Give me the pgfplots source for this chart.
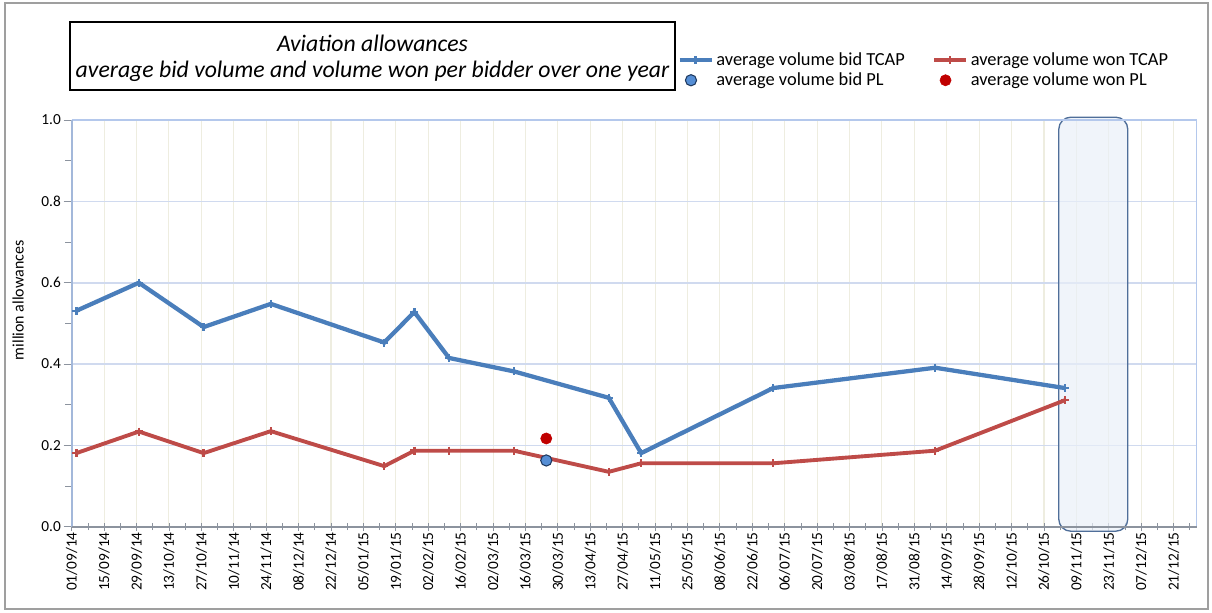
\documentclass[border=0pt]{standalone}
\usepackage{fontspec}
\setmainfont{Carlito}
\usepackage{pgfplots}
\pgfplotsset{compat=1.18}
\definecolor{bluel}{HTML}{4A7EBB}
\definecolor{redl}{HTML}{BE4B48}
\definecolor{plblue}{HTML}{558ED5}
\definecolor{plblueedge}{HTML}{1F3A60}
\definecolor{plred}{HTML}{C00000}
\definecolor{ygrid}{HTML}{D0DAEF}
\definecolor{xgrid}{HTML}{EEEDE0}
\definecolor{axleft}{HTML}{A3B8DA}
\definecolor{axtop}{HTML}{B4C8EC}
\definecolor{axbot}{HTML}{8C939E}
\definecolor{hlfill}{HTML}{E9EFF8}
\definecolor{hledge}{HTML}{4F6E99}

\pgfplotsset{mylegline/.style={legend image code/.code={\draw[mark repeat=2,mark phase=2,##1] plot coordinates {(0pt,0pt) (12pt,0pt) (24pt,0pt)};}}}

\pgfplotstableread{
d v
2 0.531
29 0.600
57 0.491
86 0.548
135 0.453
148 0.528
163 0.415
191 0.382
232 0.317
246 0.181
303 0.341
373 0.391
429 0.341
}\bidtcap
\pgfplotstableread{
d v
2 0.181
29 0.234
57 0.181
86 0.235
135 0.149
148 0.187
163 0.187
191 0.187
232 0.135
246 0.156
303 0.156
373 0.187
429 0.311
}\wontcap

\begin{document}
\begin{tikzpicture}
\begin{axis}[
  scale only axis, width=843.75pt, height=305pt,
  at={(53.8pt,64.7pt)}, anchor=south west,
  xmin=0, xmax=486, ymin=0, ymax=1,
  xtick={0,14,...,476},
  xticklabels={01/09/14,15/09/14,29/09/14,13/10/14,27/10/14,10/11/14,24/11/14,08/12/14,22/12/14,05/01/15,19/01/15,02/02/15,16/02/15,02/03/15,16/03/15,30/03/15,13/04/15,27/04/15,11/05/15,25/05/15,08/06/15,22/06/15,06/07/15,20/07/15,03/08/15,17/08/15,31/08/15,14/09/15,28/09/15,12/10/15,26/10/15,09/11/15,23/11/15,07/12/15,21/12/15},
  minor xtick={7,21,...,483},
  ytick={0,0.2,0.4,0.6,0.8,1},
  yticklabels={0.0,0.2,0.4,0.6,0.8,1.0},
  minor ytick={0.1,0.3,0.5,0.7,0.9},
  tick pos=left,
  xmajorgrids, ymajorgrids,
  x grid style={xgrid, line width=0.8pt},
  y grid style={ygrid, line width=1.2pt},
  axis line style={draw=none},
  xtick align=center, ytick align=outside,
  major tick length=6pt, minor tick length=5pt,
  tick style={axbot, line width=0.6pt},
  x tick label style={rotate=90, anchor=east, font=\fontsize{11.5}{13}\selectfont, inner sep=1pt},
  y tick label style={font=\fontsize{11.5}{13}\selectfont, inner sep=2pt},
  ylabel={million allowances},
  ylabel style={at={(axis description cs:-0.0477,0.557)}, anchor=center, font=\fontsize{12}{14}\selectfont},
  clip=false,
  legend columns=2,
  legend cell align=left,
  legend style={at={(rel axis cs:0.537,1.176)}, anchor=north west, draw=none, fill=none,
    font=\fontsize{13.8}{16}\selectfont, inner sep=1pt, row sep=0pt,
    nodes={inner sep=2pt},
    /tikz/every even column/.append style={column sep=18.5pt}},
]
% highlight box
\draw[hledge, fill=hlfill, fill opacity=0.7, rounded corners=9pt, line width=1pt]
  (axis cs:426.4,-0.011) rectangle (axis cs:456.2,1.007);
% axis borders
\draw[axtop, line width=1pt] (rel axis cs:0,1) -- (rel axis cs:1,1) -- (rel axis cs:1,0);
\draw[axleft, line width=1.6pt] (rel axis cs:0,0) -- (rel axis cs:0,1);
\draw[axbot, line width=1.2pt] (rel axis cs:0,0) -- (rel axis cs:1,0);

\addplot[bluel, line width=3.2pt, mark=+, mark size=3pt, mark options={line width=1.8pt}, mylegline]
  table[x=d, y=v] {\bidtcap};
\addlegendentry{average volume bid TCAP}
\addplot[redl, line width=2.9pt, mark=+, mark size=3pt, mark options={line width=1.8pt}, mylegline]
  table[x=d, y=v] {\wontcap};
\addlegendentry{average volume won TCAP}
\addplot[only marks, mark=*, mark size=4.2pt, mark options={fill=plblue, draw=plblueedge, line width=0.8pt}]
  coordinates {(205,0.163)};
\addlegendentry{average volume bid PL}
\addplot[only marks, mark=*, mark size=4.2pt, mark options={fill=plred, draw=plred}]
  coordinates {(205,0.217)};
\addlegendentry{average volume won PL}
\end{axis}
% title box
\draw[black, line width=1pt] (52.5pt,392.25pt) rectangle (506.25pt,443.25pt);
\node[align=center, font=\fontsize{17.8}{19.5}\selectfont\itshape] at (279.4pt,416pt)
  {Aviation allowances\\average bid volume and volume won per bidder over one year};
% outer frame
\draw[gray!75, line width=0.9pt] (3.75pt,3pt) rectangle (906pt,457.5pt);
\pgfresetboundingbox
\path (0pt,0pt) rectangle (909pt,459.75pt);
\end{tikzpicture}
\end{document}
